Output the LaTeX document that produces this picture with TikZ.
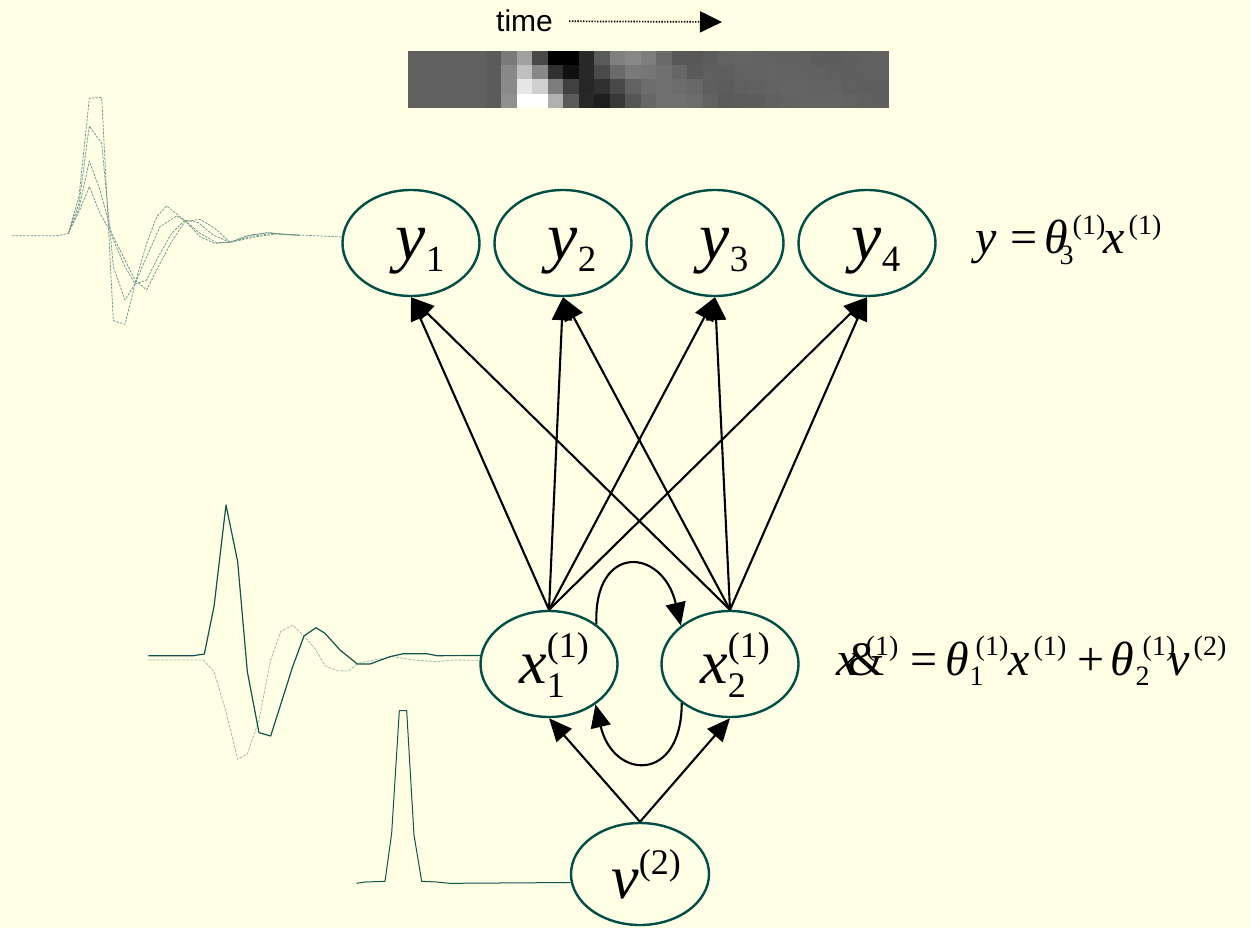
\documentclass[tikz,border=0pt]{standalone}
\usepackage{fontspec}
\setmainfont{Liberation Serif}
\newfontfamily\arialfont{Liberation Sans}
\usetikzlibrary{arrows.meta,shapes.geometric}

\definecolor{paper}{RGB}{255,255,229}
\definecolor{nodeline}{RGB}{0,78,70}
\definecolor{wavedark}{RGB}{16,84,74}
\definecolor{wavepale}{RGB}{165,190,176}
\definecolor{wavedash}{RGB}{112,150,140}

\newcommand\fsz[1]{\fontsize{#1}{#1}\selectfont}
% place a piece of an equation at a horizontal offset (pt) from the start
\newcommand\at[2]{\rlap{\hspace*{#1pt}#2}}
\newcommand\supr[1]{\raisebox{20pt}{\fsz{28}#1}}
\newcommand\subr[1]{\raisebox{-10pt}{\fsz{28}#1}}

\begin{document}
\begin{tikzpicture}[x=1pt,y=-1pt,
  state/.style={ellipse, draw=nodeline, line width=2.4pt,
    minimum width=137pt, minimum height=106pt, inner sep=0pt,
    text depth=0pt},
  ynode/.style={state, font=\fsz{68}, text height=32pt},
  xnode/.style={state, font=\fsz{62}, text height=38pt},
  link/.style={line width=2.1pt, -{Triangle[length=23pt,width=20pt]}},
  trace/.style={line width=0.75pt, wavedash, dash pattern=on 2.5pt off 1.2pt, line join=round},
  pale/.style={line width=0.85pt, wavepale, dash pattern=on 3pt off 1.2pt, line join=round},
  solidwave/.style={line width=1.2pt, wavedark, line join=round},
  eq/.style={anchor=base west, inner sep=0pt, font=\fsz{48}}]

\fill[paper] (0,0) rectangle (1250,928);
\useasboundingbox (0,0) rectangle (1250,928);

% --- time axis and the response image ---
\node[anchor=base west, inner sep=0pt, font=\arialfont\fsz{30}] (time) at (496,32) {time};
\coordinate (timeend) at (722,22);
\draw[line width=1.7pt, dash pattern=on 1.4pt off 1.4pt,
      -{Triangle[length=22pt,width=21pt]}] ([xshift=16pt]time.east) -- (timeend);

\foreach \a/\b/\c/\d [count=\i from 0] in {
  96/96/96/96, 96/96/96/96, 96/96/96/96, 96/96/96/96, 96/96/96/96,
  91/91/91/91, 122/136/138/144, 160/192/230/255, 72/136/208/255,
  0/48/124/176, 0/16/64/90, 40/40/38/40, 90/74/48/30, 128/106/72/56,
  136/122/98/85, 126/118/108/102, 106/112/112/112, 88/102/108/112,
  87/90/104/108, 92/95/94/98, 98/94/92/90, 100/98/95/92, 99/99/97/93,
  98/100/99/96, 97/99/100/99, 96/98/100/100, 93/97/99/100, 92/95/98/100,
  94/94/95/98, 96/95/94/96, 97/96/94/94} {
  \pgfmathsetmacro\xl{408+15.516*\i}
  \pgfmathsetmacro\xr{408+15.516*(\i+1)}
  \definecolor{cellA}{RGB}{\a,\a,\a}
  \definecolor{cellB}{RGB}{\b,\b,\b}
  \definecolor{cellC}{RGB}{\c,\c,\c}
  \definecolor{cellD}{RGB}{\d,\d,\d}
  \fill[cellA] (\xl,51) rectangle (\xr,65.3);
  \fill[cellB] (\xl,65.2) rectangle (\xr,79.6);
  \fill[cellC] (\xl,79.5) rectangle (\xr,93.8);
  \fill[cellD] (\xl,93.7) rectangle (\xr,108);
}

% --- states ---
\node[ynode] (y1) at (411,243) {\hspace{18pt}\textit{y}\raisebox{-12pt}{\fsz{37}1}};
\node[ynode] (y2) at (563,243) {\hspace{18pt}\textit{y}\raisebox{-12pt}{\fsz{37}2}};
\node[ynode] (y3) at (715,243) {\hspace{18pt}\textit{y}\raisebox{-12pt}{\fsz{37}3}};
\node[ynode] (y4) at (867,243) {\hspace{18pt}\textit{y}\raisebox{-12pt}{\fsz{37}4}};

\node[xnode] (x1) at (549,664)
  {\hspace{10pt}\textit{x}\rlap{\raisebox{-14pt}{\fsz{36}1}}\raisebox{26pt}{\fsz{36}(1)}};
\node[xnode] (x2) at (730,664)
  {\hspace{10pt}\textit{x}\rlap{\raisebox{-14pt}{\fsz{36}2}}\raisebox{26pt}{\fsz{36}(1)}};

\node[xnode, minimum width=138pt, minimum height=102pt, text height=48pt] (v) at (640,874)
  {\hspace{12pt}\textit{v}\raisebox{24pt}{\fsz{36}(2)}};

% --- equations ---
\node[eq] (eqy) at (975,254) {\at{0}{\textit{y}}\at{35}{=}\at{69}{\textit{θ}}%
  \at{84}{\subr{3}}\at{97}{\supr{(1)}}\at{128}{\textit{x}}\at{153}{\supr{(1)}}};

\node[eq] (eqx) at (836,675) {\at{0}{\textit{x}}\at{11}{\&}\at{29}{\supr{(1)}}%
  \at{74}{=}\at{109}{\textit{θ}}\at{133}{\subr{1}}\at{139}{\supr{(1)}}%
  \at{172}{\textit{x}}\at{197}{\supr{(1)}}\at{241}{+}\at{274}{\textit{θ}}%
  \at{299}{\subr{2}}\at{306}{\supr{(1)}}\at{332}{\textit{v}}\at{357}{\supr{(2)}}};

% --- connections ---
\foreach \s in {x1,x2}
  \foreach \t in {y1,y2,y3,y4}
    \draw[link] (\s.north) -- (\t.south);
\draw[link] (v.north) -- (x1.south);
\draw[link] (v.north) -- (x2.south);
\draw[link] (x1.40) .. controls +(-3,-82) and +(-18,-78) .. (x2.142);
\draw[link] (x2.-141) .. controls +(0,80) and +(18,76) .. (x1.-41);

% --- observed responses beside y ---
\begin{scope}[shift={(0,80)}, scale=1/3]
  \draw[trace] (36,467) -- (175,467) -- (205,460) -- (237,350) -- (268,55) -- (305,52)
    -- (340,722) -- (375,733) -- (405,612) -- (440,490) -- (470,410) -- (500,378)
    -- (555,422) -- (600,460) -- (650,488) -- (690,487) -- (740,468) -- (800,458)
    -- (840,462) -- (900,465) -- (y1.175);
  \draw[trace] (205,460) -- (237,370) -- (268,138) -- (305,190) -- (340,560) -- (375,660)
    -- (405,612) -- (440,530) -- (480,440) -- (530,408) -- (555,422) -- (600,470)
    -- (645,490) -- (690,487) -- (750,465) -- (810,458) -- (860,464) -- (900,466);
  \draw[trace] (205,460) -- (237,385) -- (268,243) -- (300,330) -- (340,480) -- (375,560)
    -- (405,612) -- (440,600) -- (475,530) -- (515,460) -- (555,420) -- (595,428)
    -- (640,465) -- (690,487) -- (760,468) -- (820,460) -- (870,464) -- (900,466);
  \draw[trace] (205,460) -- (237,395) -- (268,320) -- (300,400) -- (340,470) -- (375,540)
    -- (405,600) -- (440,630) -- (475,560) -- (515,485) -- (555,425) -- (600,418)
    -- (645,445) -- (690,487) -- (770,470) -- (830,462) -- (880,465) -- (900,466);
\end{scope}

% --- hidden state responses beside x ---
\begin{scope}[shift={(140,490)}, scale=1/3]
  \draw[pale] (25,510) -- (190,510) -- (222,545) -- (258,665) -- (293,808) -- (322,792)
    -- (357,690) -- (392,510) -- (422,425) -- (458,405) -- (492,438) -- (528,480)
    -- (555,527) -- (590,542) -- (625,543) -- (655,520) -- (700,510) -- (760,500)
    -- (820,510) -- (890,515) -- (940,510) -- (x1.177);
  \draw[solidwave] (25,497) -- (160,497) -- (193,492) -- (222,350) -- (258,45) -- (293,215)
    -- (322,545) -- (357,728) -- (392,738) -- (420,650) -- (458,530) -- (492,438)
    -- (528,413) -- (555,430) -- (600,480) -- (652,522) -- (690,522) -- (750,500)
    -- (790,491) -- (860,491) -- (890,497) -- (x1.173);
\end{scope}

% --- input beside v ---
\begin{scope}[shift={(340,690)}, scale=1/3]
  \draw[solidwave, line width=1pt] (50,580) -- (75,576) -- (135,574) -- (155,430) -- (178,62)
    -- (200,62) -- (222,435) -- (245,574) -- (290,576) -- (330,580) -- (v.187);
\end{scope}

\end{tikzpicture}
\end{document}
